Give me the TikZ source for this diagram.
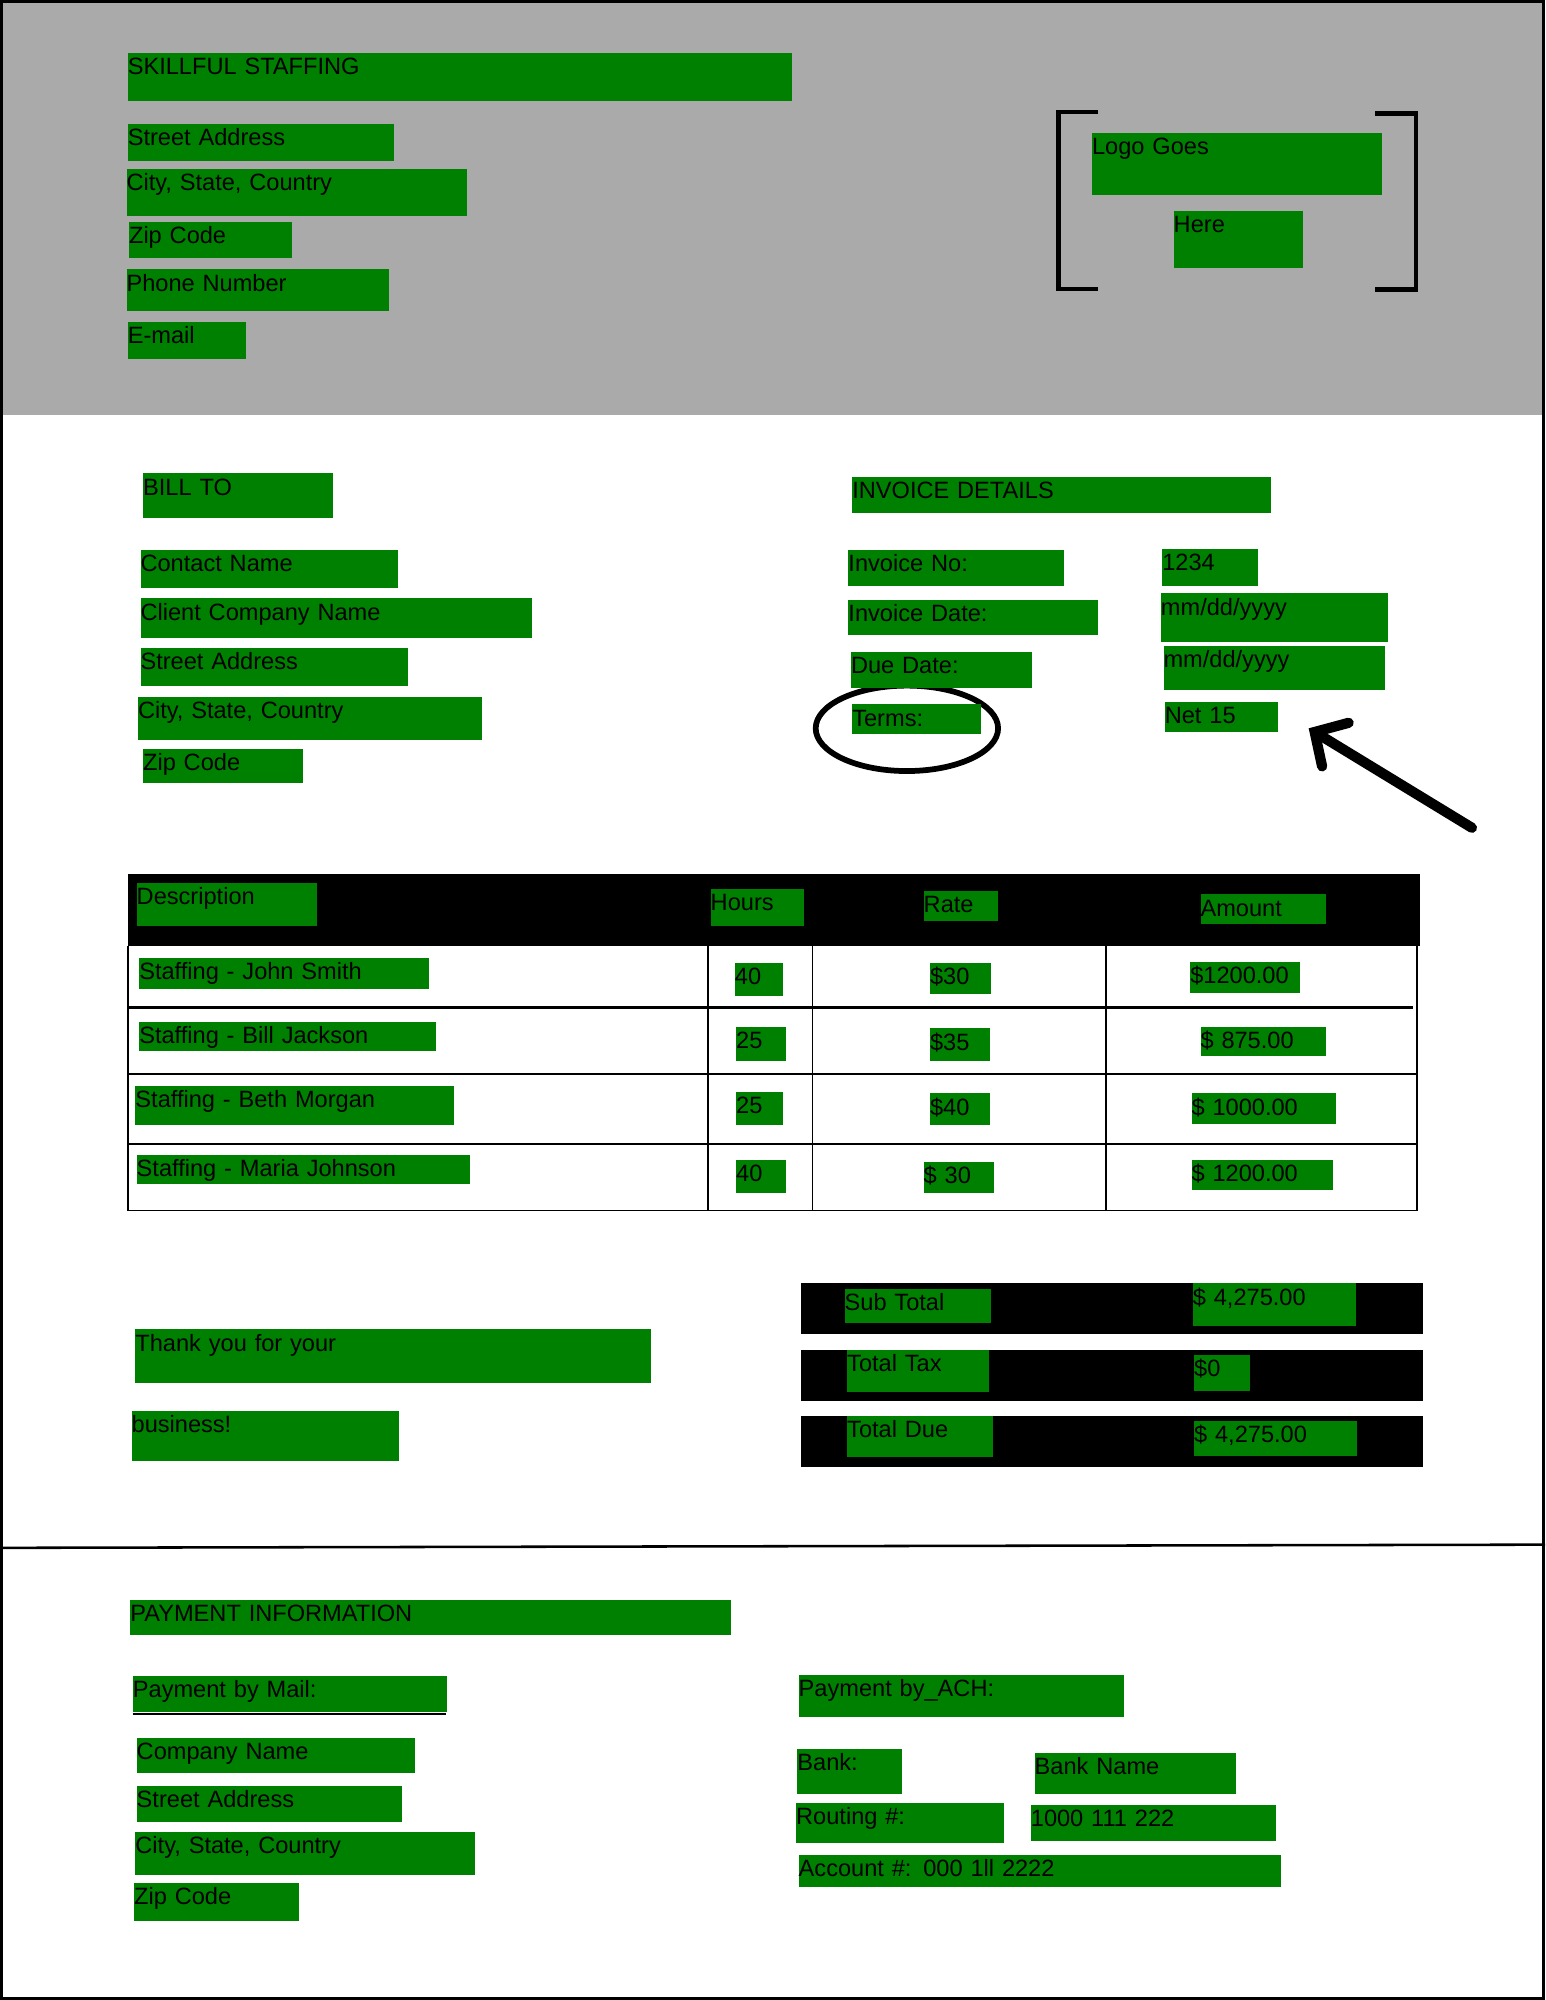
\documentclass[tikz,border=0pt]{standalone}
\usepackage{fontspec}
\setmainfont{Liberation Sans}
\usetikzlibrary{arrows.meta}
\definecolor{fieldgreen}{RGB}{0,128,0}
\definecolor{headergray}{RGB}{170,170,170}

\begin{document}
\begin{tikzpicture}[x=1pt, y=-1pt,
  field/.style 2 args={fill=fieldgreen, anchor=north west, inner sep=0pt,
    text width=#1pt, text height=17pt, text depth=#2pt, align=left,
    font=\fontsize{18.5}{22}\selectfont},
  bracket/.style={line width=3.5pt},
  grid/.style={line width=1.5pt}]
  \useasboundingbox (0,0) rectangle (1211.3,1568);
  \fill[headergray] (0,0) rectangle (1211.3,325);

  \draw[bracket] (861,88) -- (830,88) -- (830,226.5) -- (861,226.5);
  \draw[bracket] (1078,89) -- (1110,89) -- (1110,227) -- (1078,227);

  \node[field={521}{21}] (company) at (100,41) {SKILLFUL STAFFING};
  \node[field={209}{12}] (hstreet) at (100,97) {Street Address};
  \node[field={267}{20}] (hcity) at (99,132) {City, State, Country};
  \node[field={128}{11}] (hzip) at (101,174) {Zip Code};
  \node[field={206}{16}] (hphone) at (99,211) {Phone Number};
  \node[field={93}{12}] (hmail) at (100,252) {E-mail};
  \node[field={227}{32}] (logotop) at (856,104) {Logo Goes};
  \node[field={101}{28}] (logobottom) at (920,165) {Here};

  \draw[line width=4.5pt] (711,571) ellipse [x radius=71.5, y radius=33.5];
  \coordinate (arrowtail) at (1154,649);
  \coordinate (arrowtip) at (1026,571);
  \draw[line width=8pt, line cap=round,
    -{Straight Barb[length=19pt, width=40pt, line cap=round]}] (arrowtail) -- (arrowtip);

  \node[field={149}{18}] (billto) at (112,371) {BILL TO};
  \node[field={202}{13}] (contact) at (110,431) {Contact Name};
  \node[field={307}{14}] (client) at (110,469) {Client Company Name};
  \node[field={210}{13}] (bstreet) at (110,508) {Street Address};
  \node[field={270}{17}] (bcity) at (108,546) {City, State, Country};
  \node[field={125}{10}] (bzip) at (112,587) {Zip Code};

  \node[field={328}{11}] (details) at (668,374) {INVOICE DETAILS};
  \node[field={169}{11}] (invno) at (665,431) {Invoice No:};
  \node[field={196}{11}] (invdate) at (665,470) {Invoice Date:};
  \node[field={142}{11}] (duedate) at (667,511) {Due Date:};
  \node[field={101}{6}] (terms) at (668,552) {Terms:};
  \node[field={75}{12}] (vno) at (911,430) {1234};
  \node[field={178}{21}] (vdate) at (910,465) {mm/dd/yyyy};
  \node[field={174}{18}] (vdue) at (912,506) {mm/dd/yyyy};
  \node[field={89}{7}] (vterms) at (913,550) {Net 15};

  \fill (100,685) rectangle (1113,742);
  \draw[grid] (100,742) -- (100,949) -- (1111,949) -- (1111,742);
  \foreach \x in {555,637,867}
    \draw[grid] (\x,742) -- (\x,949);
  \draw[line width=2.5pt] (100,790) -- (1108,790);
  \foreach \y in {842,897}
    \draw[line width=2pt] (100,\y) -- (1110,\y);

  \node[field={141}{17}] (desc) at (107,692) {Description};
  \node[field={73}{12}] (hours) at (557,697) {Hours};
  \node[field={58}{7}] (rate) at (724,698) {Rate};
  \node[field={98}{6}] (amount) at (941,701) {Amount};

  \node[field={227}{7}] (desca) at (109,751) {Staffing - John Smith};
  \node[field={38}{9}] (hoursa) at (576,755) {40};
  \node[field={48}{7}] (ratea) at (729,755) {\$30};
  \node[field={86}{7}] (amounta) at (933,754) {\$1200.00};

  \node[field={233}{6}] (descb) at (109,801) {Staffing - Bill Jackson};
  \node[field={39}{10}] (hoursb) at (577,805) {25};
  \node[field={47}{9}] (rateb) at (729,806) {\$35};
  \node[field={98}{6}] (amountb) at (941,805) {\$ 875.00};

  \node[field={250}{14}] (descc) at (106,851) {Staffing - Beth Morgan};
  \node[field={37}{9}] (hoursc) at (577,856) {25};
  \node[field={47}{8}] (ratec) at (729,857) {\$40};
  \node[field={113}{7}] (amountc) at (934,857) {\$ 1000.00};

  \node[field={261}{6}] (descd) at (107,905) {Staffing - Maria Johnson};
  \node[field={39}{9}] (hoursd) at (577,909) {40};
  \node[field={55}{7}] (rated) at (724,911) {\$ 30};
  \node[field={111}{7}] (amountd) at (934,909) {\$ 1200.00};

  \foreach \y in {1006,1058,1110}
    \fill (628,\y) rectangle (1116,\y+40);
  \node[field={404}{25}] (thanks) at (106,1042) {Thank you for your};
  \node[field={210}{22}] (business) at (103,1106) {business!};
  \node[field={115}{10}] (subtotal) at (662,1010) {Sub Total};
  \node[field={128}{16}] (vsubtotal) at (935,1006) {\$ 4,275.00};
  \node[field={111}{16}] (tax) at (664,1058) {Total Tax};
  \node[field={44}{11}] (vtax) at (936,1062) {\$0};
  \node[field={114}{15}] (totaldue) at (664,1110) {Total Due};
  \node[field={128}{10}] (vtotaldue) at (936,1114) {\$ 4,275.00};

  \draw[line width=2pt] (0,1213.5) -- (1211.3,1211);

  \node[field={471}{11}] (payinfo) at (102,1254) {PAYMENT INFORMATION};
  \draw[grid] (104,1343.5) -- (350,1343.5);
  \node[field={246}{11}] (bymail) at (104,1314) {Payment by Mail:};
  \node[field={218}{11}] (pcompany) at (107,1362) {Company Name};
  \node[field={208}{11}] (pstreet) at (107,1400) {Street Address};
  \node[field={266}{17}] (pcity) at (106,1436) {City, State, Country};
  \node[field={129}{13}] (pzip) at (105,1476) {Zip Code};
  \node[field={255}{16}] (byach) at (626,1313) {Payment by\_ACH:};
  \node[field={82}{18}] (bank) at (625,1371) {Bank:};
  \node[field={158}{15}] (bankname) at (811,1374) {Bank Name};
  \node[field={163}{15}] (routing) at (624,1413) {Routing \#:};
  \node[field={192}{11}] (vrouting) at (808,1415) {1000 111 222};
  \node[field={378}{8}] (account) at (626,1454) {Account \#: 000 1ll 2222};

  \draw[line width=2pt] (1,1) rectangle (1210.3,1567);
\end{tikzpicture}
\end{document}
